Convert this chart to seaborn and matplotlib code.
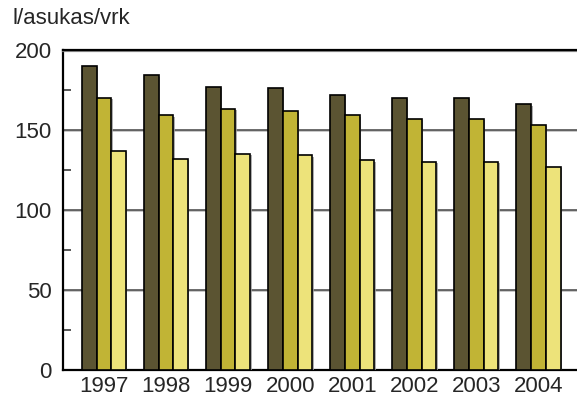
import matplotlib
matplotlib.use("Agg")
import matplotlib.pyplot as plt
import matplotlib.patheffects as pe
from matplotlib.ticker import MultipleLocator
import pandas as pd
import seaborn as sns

years = ["1997", "1998", "1999", "2000", "2001", "2002", "2003", "2004"]
series_a = [190, 184, 177, 176, 172, 170, 170, 166]
series_b = [170, 159, 163, 162, 159, 157, 157, 153]
series_c = [137, 132, 135, 134, 131, 130, 130, 127]
series_names = ["A", "B", "C"]
palette = ["#5b5432", "#c1b435", "#ede37a"]

df = pd.DataFrame({
    "vuosi": years * 3,
    "kulutus": series_a + series_b + series_c,
    "sarja": [n for n in series_names for _ in years],
})

sns.set_style("white")
plt.rcParams["font.family"] = ["Liberation Sans", "DejaVu Sans"]

fig = plt.figure(figsize=(5.77, 4.03), dpi=100)
W, H = 577, 403
ax = fig.add_axes([63 / W, (H - 370) / H, (W - 63) / W, (370 - 49.7) / H])

sns.barplot(data=df, x="vuosi", y="kulutus", hue="sarja", palette=palette,
            saturation=1, width=0.71, gap=0, edgecolor="black", linewidth=1.2,
            legend=False, ax=ax, zorder=3)

shadow = [pe.SimplePatchShadow(offset=(1, -1), shadow_rgbFace="#9a9a9a", alpha=0.8), pe.Normal()]
for p in ax.patches:
    p.set_path_effects(shadow)

ax.set_ylim(0, 200)
ax.set_xlim(-0.66, 7.62)
ax.yaxis.set_major_locator(MultipleLocator(50))
ax.yaxis.set_minor_locator(MultipleLocator(25))
ax.grid(axis="y", which="major", color="#444444", linewidth=1.1, zorder=1,
        path_effects=[pe.SimpleLineShadow(offset=(0.5, -1), shadow_color="#aaaaaa", alpha=0.8), pe.Normal()])
ax.set_axisbelow(True)

ax.spines["right"].set_visible(False)
for side in ["left", "bottom", "top"]:
    ax.spines[side].set_visible(True)
    ax.spines[side].set_color("black")
    ax.spines[side].set_linewidth(1.6)
ax.spines["top"].set_path_effects(
    [pe.SimpleLineShadow(offset=(0, -1.2), shadow_color="#888888", alpha=0.9), pe.Normal()])

ax.tick_params(axis="y", which="major", direction="in", length=0, labelsize=16, pad=8)
ax.tick_params(axis="y", which="minor", direction="in", length=6, width=1.2, color="#3a3a3a", left=True)
ax.tick_params(axis="x", length=0, labelsize=16, pad=4)
ax.set_xlabel("")
ax.set_ylabel("")

fig.text(12 / W, 1 - 18 / H, "l/asukas/vrk", fontsize=16, ha="left", va="center")

fig.savefig("out.png", dpi=100)
